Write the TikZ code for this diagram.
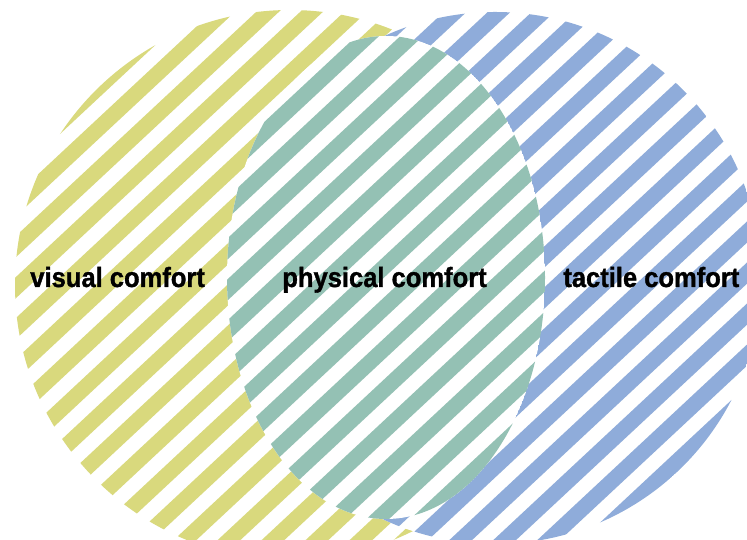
\documentclass[tikz,border=0pt]{standalone}
\usepackage{fontspec}
\setmainfont{Liberation Sans}
\newfontfamily\comfortfont[FakeStretch=0.92,FakeBold=1.2]{Liberation Sans}
\usepackage{xcolor}

\definecolor{visualcol}{RGB}{217,217,125}
\definecolor{physicalcol}{RGB}{148,193,180}
\definecolor{tactilecol}{RGB}{143,172,218}

\tikzset{
  comfort/.style={font=\comfortfont\bfseries\fontsize{15.8}{19}\selectfont,
    anchor=base west, inner sep=0pt, text=black}
}

% diagonal stripes: colour, phase
\newcommand\stripefill[2]{%
  \begin{scope}[rotate=43]
    \foreach \k in {-20,...,16}
      \fill[#1] (-100,\k*30+#2) rectangle (1000,\k*30+#2+15.5);
  \end{scope}}

\begin{document}
\begin{tikzpicture}[x=0.02cm,y=0.02cm]
    \useasboundingbox (0,0) rectangle (747,540);

    % left disc
    \begin{scope}
        \clip (290,255) circle (275);
        \fill[white] (290,255) circle (275);
        \stripefill{visualcol}{16}
    \end{scope}

    % right disc
    \begin{scope}
        \clip (495,262) circle (266);
        \fill[white] (495,262) circle (266);
        \stripefill{tactilecol}{8}
    \end{scope}

    % middle ellipse
    \begin{scope}
        \clip (386,262.5) ellipse [x radius=159, y radius=241.5];
        \fill[white] (386,262.5) ellipse [x radius=159, y radius=241.5];
        \stripefill{physicalcol}{20}
    \end{scope}

    \node[comfort] (visual) at (30,253) {visual comfort};
    \node[comfort] (physical) at (282,253) {physical comfort};
    \node[comfort] (tactile) at (563,253) {tactile comfort};
\end{tikzpicture}
\end{document}
